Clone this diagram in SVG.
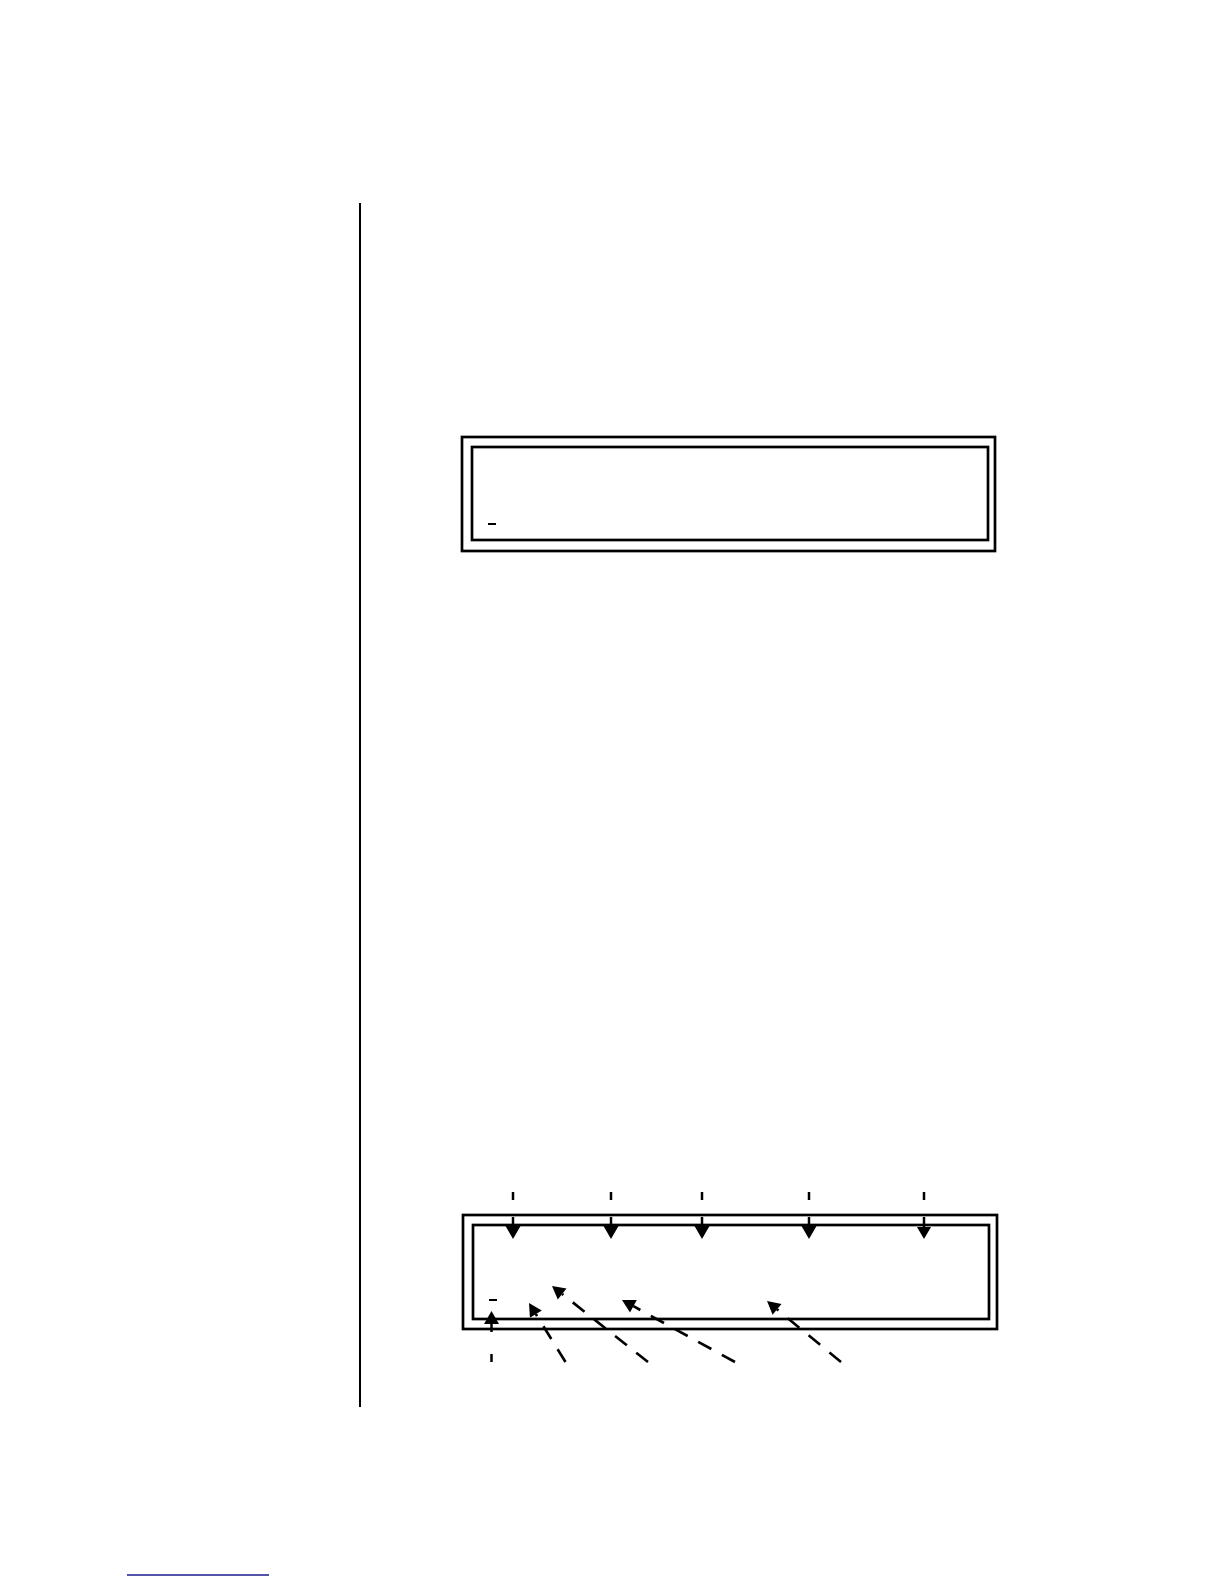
<svg xmlns="http://www.w3.org/2000/svg" width="1224" height="1584" viewBox="0 0 1224 1584">
<style>
.box{fill:none;stroke:#000;stroke-width:2.7}
.ln{stroke:#000;stroke-width:2.5;fill:none}
.dash{stroke:#000;stroke-width:2.6;fill:none;stroke-dasharray:15 12}
.head{fill:#000}
</style>
<rect width="1224" height="1584" fill="#fff"/>
<line x1="360" y1="203" x2="360" y2="1407" stroke="#000" stroke-width="2"/>
<g id="display1">
<rect class="box" x="462" y="437" width="533" height="114"/>
<rect class="box" x="472" y="447" width="516" height="93"/>
<line x1="488" y1="524" x2="496" y2="524" stroke="#000" stroke-width="2"/>
</g>
<g id="display2">
<rect class="box" x="463" y="1215" width="534" height="114"/>
<rect class="box" x="473" y="1225" width="516" height="94"/>
<line x1="489" y1="1300" x2="497" y2="1300" stroke="#000" stroke-width="2"/>
</g>
<g id="connectors">
<g id="down-arrows">
<line class="ln" x1="513" y1="1192" x2="513" y2="1200"/>
<line class="ln" x1="513" y1="1217" x2="513" y2="1228"/>
<polygon class="head" points="505.5,1226 520.5,1226 513,1239"/>
<line class="ln" x1="611" y1="1192" x2="611" y2="1200"/>
<line class="ln" x1="611" y1="1217" x2="611" y2="1228"/>
<polygon class="head" points="603.5,1226 618.5,1226 611,1239"/>
<line class="ln" x1="702" y1="1192" x2="702" y2="1200"/>
<line class="ln" x1="702" y1="1217" x2="702" y2="1228"/>
<polygon class="head" points="694.5,1226 709.5,1226 702,1239"/>
<line class="ln" x1="809" y1="1192" x2="809" y2="1200"/>
<line class="ln" x1="809" y1="1217" x2="809" y2="1228"/>
<polygon class="head" points="801.5,1226 816.5,1226 809,1239"/>
<line class="ln" x1="924" y1="1192" x2="924" y2="1200"/>
<line class="ln" x1="924" y1="1217" x2="924" y2="1229"/>
<polygon class="head" points="917,1227 931,1227 924,1239"/>
</g>
<g id="up-arrows">
<line class="ln" x1="491.5" y1="1354" x2="491.5" y2="1362"/>
<line class="ln" x1="491.5" y1="1322" x2="491.5" y2="1332"/>
<polygon class="head" points="484,1324 499,1324 491.5,1311"/>
<line class="dash" x1="565.5" y1="1362" x2="535.8" y2="1314"/>
<polygon class="head" points="529,1303 541.8,1310.4 529.9,1317.7"/>
<line class="dash" x1="648" y1="1362" x2="562.2" y2="1294"/>
<polygon class="head" points="552,1286 566.5,1288.6 557.8,1299.6"/>
<line class="dash" x1="735" y1="1362" x2="633.4" y2="1306.2"/>
<polygon class="head" points="622,1300 636.8,1300.1 630,1312.4"/>
<line class="dash" x1="841" y1="1362" x2="777" y2="1309.3"/>
<polygon class="head" points="767,1301 781.5,1303.9 772.6,1314.7"/>
</g>
</g>
<line x1="127" y1="1575" x2="269" y2="1575" stroke="#1a1a8c" stroke-width="1.4"/>
</svg>
